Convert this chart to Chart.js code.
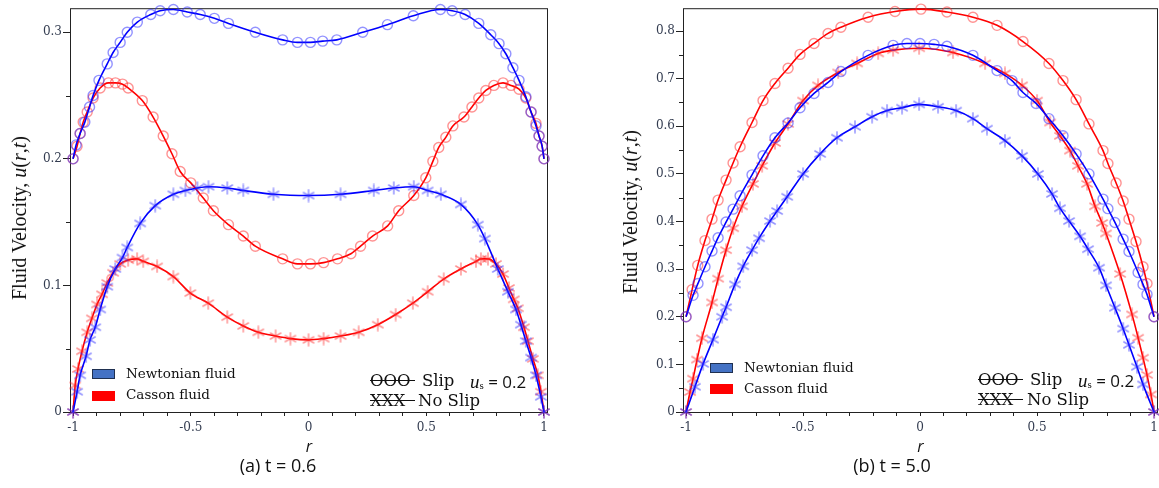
<!DOCTYPE html>
<html>
<head>
<meta charset="utf-8">
<script src="https://cdn.jsdelivr.net/npm/chart.js@4.4.1/dist/chart.umd.min.js"></script>
<style>
    body { margin: 0; background: #fff; width: 1159px; height: 488px; overflow: hidden; position: relative; }
    canvas { position: absolute; top: 0; }
    .txt { position: absolute; white-space: nowrap; line-height: 1; color: #111; }
    .leg { font-family: "DejaVu Serif", serif; font-size: 13.5px; }
    .key { font-family: "DejaVu Serif", serif; font-size: 16.5px; }
    .us { font-size: 17px; }
    .us i { font-family: "Liberation Serif", serif; font-size: 19px; }
    .us sub { font-family: "Liberation Serif", serif; font-size: 11px; vertical-align: -1px; }
    .us span { font-family: "Open Sans", sans-serif; }
    .strike { position: absolute; height: 0; border-top: 1.5px solid #111; }
    .box { position: absolute; width: 23px; height: 10px; box-sizing: border-box; }
    .ytitle { position: absolute; white-space: nowrap; line-height: 1; font-family: "Liberation Serif", serif; font-size: 20px; color: #111; transform: translate(-50%, -50%) rotate(-90deg); }
    .cap { position: absolute; white-space: nowrap; line-height: 1; font-family: "Open Sans", sans-serif; font-size: 18px; color: #111; transform: translateX(-50%); }
</style>
</head>
<body>
<canvas id="chartA" width="580" height="488" style="left:0"></canvas>
<canvas id="chartB" width="600" height="488" style="left:590px"></canvas>

<div class="ytitle" style="left:19px;top:218px">Fluid Velocity, <i>u</i>(<i>r</i>,<i>t</i>)</div>
<div class="ytitle" style="left:630px;top:212px">Fluid Velocity, <i>u</i>(<i>r</i>,<i>t</i>)</div>

<!-- panel (a) legends -->
<div class="box" style="left:92px;top:369px;background:#4472c4;border:1.5px solid #1f3050"></div>
<div class="box" style="left:92px;top:391px;background:#ff0000"></div>
<div class="txt leg" style="left:126px;top:367px">Newtonian fluid</div>
<div class="txt leg" style="left:126px;top:388px">Casson fluid</div>
<div class="txt key" style="left:370px;top:373px">OOO</div>
<div class="strike" style="left:370px;top:380px;width:45px"></div>
<div class="txt key" style="left:422px;top:373px">Slip</div>
<div class="txt us" style="left:470px;top:372px"><i>u</i><sub>s</sub><span> = 0.2</span></div>
<div class="txt key" style="left:370px;top:393px">XXX</div>
<div class="strike" style="left:370px;top:400px;width:45px"></div>
<div class="txt key" style="left:418px;top:393px">No Slip</div>

<!-- panel (b) legends -->
<div class="box" style="left:710px;top:363px;background:#4472c4;border:1.5px solid #1f3050"></div>
<div class="box" style="left:710px;top:384px;background:#ff0000"></div>
<div class="txt leg" style="left:744px;top:361px">Newtonian fluid</div>
<div class="txt leg" style="left:744px;top:382px">Casson fluid</div>
<div class="txt key" style="left:978px;top:372px">OOO</div>
<div class="strike" style="left:978px;top:379px;width:45px"></div>
<div class="txt key" style="left:1030px;top:372px">Slip</div>
<div class="txt us" style="left:1078px;top:371px"><i>u</i><sub>s</sub><span> = 0.2</span></div>
<div class="txt key" style="left:978px;top:392px">XXX</div>
<div class="strike" style="left:978px;top:399px;width:45px"></div>
<div class="txt key" style="left:1027px;top:392px">No Slip</div>

<div class="cap" style="left:278px;top:456px">(a) t = 0.6</div>
<div class="cap" style="left:892px;top:456px">(b) t = 5.0</div>

<script>
// tick labels
const xMajor = [-1, -0.5, 0, 0.5, 1];
const aYMajor = [0, 0.1, 0.2, 0.3];
const bYMajor = [0, 0.1, 0.2, 0.3, 0.4, 0.5, 0.6, 0.7, 0.8];

// (a) t = 0.6
const aNewtSlipR = [-1, -0.987, -0.97, -0.95, -0.93, -0.915, -0.89, -0.855, -0.83, -0.80, -0.77, -0.727, -0.67, -0.63, -0.574, -0.515, -0.46, -0.40, -0.34, -0.226, -0.11, -0.047, 0.008, 0.06, 0.12, 0.23, 0.335, 0.445, 0.56, 0.61, 0.665, 0.723, 0.774, 0.809, 0.838, 0.868, 0.894, 0.923, 0.945, 0.966, 0.979, 0.992, 1];
const aNewtSlipU = [0.2, 0.211, 0.22, 0.229, 0.241, 0.25, 0.262, 0.275, 0.284, 0.292, 0.30, 0.308, 0.314, 0.317, 0.318, 0.316, 0.314, 0.311, 0.307, 0.30, 0.294, 0.292, 0.292, 0.293, 0.294, 0.30, 0.306, 0.313, 0.318, 0.317, 0.314, 0.307, 0.298, 0.291, 0.283, 0.272, 0.262, 0.249, 0.237, 0.226, 0.218, 0.21, 0.2];

const aCassSlipR = [-1, -0.983, -0.97, -0.957, -0.94, -0.915, -0.885, -0.85, -0.82, -0.79, -0.766, -0.706, -0.66, -0.617, -0.58, -0.545, -0.50, -0.447, -0.404, -0.34, -0.277, -0.226, -0.11, -0.047, 0.008, 0.064, 0.123, 0.18, 0.221, 0.272, 0.336, 0.383, 0.447, 0.498, 0.528, 0.553, 0.583, 0.613, 0.66, 0.694, 0.723, 0.753, 0.787, 0.826, 0.86, 0.894, 0.923, 0.945, 0.966, 0.979, 0.992, 1];
const aCassSlipU = [0.2, 0.21, 0.22, 0.229, 0.237, 0.248, 0.256, 0.26, 0.26, 0.259, 0.256, 0.246, 0.233, 0.218, 0.204, 0.19, 0.181, 0.169, 0.159, 0.148, 0.139, 0.131, 0.121, 0.117, 0.117, 0.118, 0.121, 0.125, 0.131, 0.139, 0.147, 0.159, 0.171, 0.185, 0.198, 0.209, 0.217, 0.226, 0.233, 0.241, 0.248, 0.254, 0.258, 0.26, 0.258, 0.255, 0.248, 0.237, 0.228, 0.218, 0.21, 0.2];

const aNewtNoSlipR = [-1, -0.983, -0.97, -0.945, -0.928, -0.906, -0.885, -0.855, -0.821, -0.79, -0.77, -0.715, -0.651, -0.574, -0.523, -0.472, -0.425, -0.345, -0.277, -0.149, 0, 0.136, 0.277, 0.362, 0.447, 0.506, 0.562, 0.647, 0.719, 0.749, 0.804, 0.847, 0.881, 0.902, 0.923, 0.945, 0.966, 0.987, 1];
const aNewtNoSlipU = [0, 0.016, 0.029, 0.044, 0.057, 0.067, 0.081, 0.099, 0.113, 0.122, 0.13, 0.149, 0.163, 0.172, 0.175, 0.177, 0.178, 0.177, 0.175, 0.172, 0.171, 0.172, 0.175, 0.177, 0.178, 0.175, 0.172, 0.164, 0.148, 0.137, 0.113, 0.095, 0.081, 0.069, 0.056, 0.043, 0.029, 0.012, 0];

const aCassNoSlipR = [-1, -0.991, -0.979, -0.962, -0.94, -0.92, -0.898, -0.877, -0.855, -0.83, -0.8, -0.766, -0.728, -0.702, -0.643, -0.574, -0.502, -0.426, -0.345, -0.277, -0.213, -0.14, -0.077, 0, 0.064, 0.136, 0.213, 0.294, 0.37, 0.443, 0.506, 0.574, 0.647, 0.711, 0.732, 0.762, 0.796, 0.826, 0.851, 0.872, 0.889, 0.915, 0.932, 0.953, 0.974, 0.987, 1];
const aCassNoSlipU = [0, 0.021, 0.034, 0.048, 0.063, 0.074, 0.085, 0.093, 0.102, 0.11, 0.117, 0.12, 0.121, 0.119, 0.115, 0.107, 0.094, 0.086, 0.075, 0.068, 0.063, 0.06, 0.058, 0.057, 0.058, 0.06, 0.063, 0.069, 0.077, 0.086, 0.095, 0.105, 0.113, 0.119, 0.121, 0.121, 0.117, 0.109, 0.098, 0.089, 0.082, 0.067, 0.056, 0.042, 0.029, 0.016, 0];

// (b) t = 5.0
const bCassSlipR = [-1, -0.974, -0.95, -0.919, -0.889, -0.863, -0.829, -0.799, -0.769, -0.718, -0.671, -0.62, -0.564, -0.513, -0.453, -0.393, -0.338, -0.222, -0.107, 0.004, 0.115, 0.226, 0.329, 0.44, 0.551, 0.611, 0.667, 0.722, 0.782, 0.803, 0.838, 0.868, 0.893, 0.923, 0.953, 0.97, 1];
const bCassSlipU = [0.2, 0.257, 0.308, 0.36, 0.405, 0.445, 0.487, 0.523, 0.557, 0.608, 0.654, 0.69, 0.722, 0.751, 0.774, 0.795, 0.808, 0.829, 0.841, 0.846, 0.84, 0.829, 0.812, 0.778, 0.732, 0.696, 0.656, 0.605, 0.549, 0.522, 0.481, 0.443, 0.405, 0.358, 0.305, 0.27, 0.2];

const bNewtSlipR = [-1, -0.97, -0.949, -0.919, -0.889, -0.863, -0.829, -0.799, -0.769, -0.718, -0.671, -0.62, -0.564, -0.513, -0.453, -0.393, -0.338, -0.222, -0.115, -0.056, 0, 0.06, 0.115, 0.226, 0.329, 0.393, 0.44, 0.496, 0.551, 0.611, 0.667, 0.722, 0.782, 0.803, 0.833, 0.868, 0.893, 0.932, 0.953, 0.97, 1];
const bNewtSlipU = [0.2, 0.245, 0.27, 0.305, 0.338, 0.366, 0.399, 0.426, 0.454, 0.498, 0.538, 0.576, 0.607, 0.639, 0.669, 0.692, 0.715, 0.749, 0.77, 0.774, 0.774, 0.772, 0.768, 0.749, 0.717, 0.696, 0.671, 0.648, 0.616, 0.58, 0.542, 0.5, 0.447, 0.427, 0.398, 0.363, 0.337, 0.293, 0.268, 0.247, 0.2];

const bCassNoSlipR = [-1, -0.983, -0.97, -0.953, -0.932, -0.889, -0.863, -0.829, -0.799, -0.761, -0.714, -0.675, -0.62, -0.564, -0.5, -0.436, -0.35, -0.269, -0.179, -0.115, -0.004, 0.141, 0.278, 0.363, 0.436, 0.5, 0.556, 0.598, 0.641, 0.675, 0.714, 0.748, 0.778, 0.795, 0.855, 0.906, 0.932, 0.953, 0.97, 0.987, 1];
const bCassNoSlipU = [0, 0.042, 0.07, 0.11, 0.155, 0.23, 0.28, 0.34, 0.386, 0.432, 0.479, 0.517, 0.565, 0.605, 0.654, 0.686, 0.713, 0.732, 0.753, 0.76, 0.764, 0.755, 0.732, 0.711, 0.686, 0.654, 0.608, 0.58, 0.549, 0.517, 0.479, 0.432, 0.397, 0.375, 0.29, 0.205, 0.156, 0.114, 0.078, 0.037, 0];

const bNewtNoSlipR = [-1, -0.962, -0.927, -0.885, -0.846, -0.829, -0.791, -0.756, -0.718, -0.688, -0.641, -0.611, -0.568, -0.5, -0.427, -0.355, -0.278, -0.205, -0.141, -0.077, -0.004, 0.077, 0.154, 0.226, 0.286, 0.363, 0.436, 0.504, 0.564, 0.598, 0.637, 0.684, 0.718, 0.765, 0.795, 0.833, 0.868, 0.893, 0.927, 0.953, 1];
const bNewtNoSlipU = [0, 0.053, 0.101, 0.152, 0.2, 0.22, 0.268, 0.306, 0.34, 0.365, 0.401, 0.422, 0.452, 0.5, 0.542, 0.576, 0.599, 0.62, 0.633, 0.639, 0.646, 0.641, 0.633, 0.616, 0.595, 0.57, 0.538, 0.5, 0.458, 0.428, 0.401, 0.369, 0.342, 0.303, 0.266, 0.219, 0.175, 0.141, 0.095, 0.058, 0];

const BLUE = { line: "#0000ff", mark: "rgba(40,40,255,0.5)" };
const RED = { line: "#ff0000", mark: "rgba(255,40,40,0.5)" };
const TICK_FONT = { family: "DejaVu Serif", size: 12 };
const TICK_COLOR = "#333c50";

// asterisk marker (6 arms) as a small canvas
function asterisk(color) {
    const c = document.createElement("canvas");
    c.width = 14; c.height = 14;
    const g = c.getContext("2d");
    g.strokeStyle = color;
    g.lineWidth = 1.5;
    g.lineCap = "round";
    [90, 30, -30].forEach(deg => {
        const a = deg * Math.PI / 180;
        const dx = Math.cos(a) * 6, dy = Math.sin(a) * 6;
        g.beginPath();
        g.moveTo(7 - dx, 7 - dy);
        g.lineTo(7 + dx, 7 + dy);
        g.stroke();
    });
    return c;
}

function series(r, u, color, marker) {
    return {
        data: r.map((x, i) => ({ x: x, y: u[i] })),
        borderColor: color.line,
        borderWidth: 1.6,
        pointStyle: marker === "o" ? "circle" : asterisk(color.mark),
        pointRadius: 5,
        pointBorderColor: color.mark,
        pointBackgroundColor: "transparent",
        pointBorderWidth: 1.4,
        cubicInterpolationMode: "monotone",
        fill: false,
        clip: false
    };
}

function steps(from, to, step) {
    const out = [];
    for (let v = from; v <= to + 1e-9; v += step) out.push(Math.round(v * 100) / 100);
    return out;
}

function isMajor(list, v) {
    return list.some(m => Math.abs(m - v) < 1e-6);
}

// box round the plot area + short minor ticks
const framePlugin = {
    id: "frame",
    beforeDatasetsDraw(chart) {
        const { ctx, chartArea: a } = chart;
        ctx.save();
        ctx.strokeStyle = "#222";
        ctx.lineWidth = 1;
        ctx.strokeRect(a.left + 0.5, a.top + 0.5, a.right - a.left - 1, a.bottom - a.top);
        const ys = chart.scales.y;
        ys.ticks.forEach(t => {
            if (isMajor(ys.options.majorList, t.value)) return;
            const py = Math.round(ys.getPixelForValue(t.value)) + 0.5;
            ctx.beginPath();
            ctx.moveTo(a.left - 4, py);
            ctx.lineTo(a.left, py);
            ctx.stroke();
        });
        ctx.restore();
    }
};

function makePanel(id, yMax, yMajor, yWidth, datasets) {
    const xTicks = steps(-1, 1, 0.1);
    const yTicks = steps(0, yMax, 0.05);
    return new Chart(document.getElementById(id), {
        type: "line",
        data: { datasets: datasets },
        options: {
            responsive: false,
            animation: false,
            layout: { padding: { top: 8, right: 32, bottom: 31, left: 0 } },
            plugins: { legend: { display: false }, tooltip: { enabled: false } },
            scales: {
                x: {
                    type: "linear",
                    min: -1.013,
                    max: 1.017,
                    afterBuildTicks: s => { s.ticks = xTicks.map(v => ({ value: v })); },
                    afterFit: s => { s.height = 45; },
                    border: { display: false },
                    grid: { drawOnChartArea: false, drawTicks: true, tickLength: 4, tickColor: "#222", tickWidth: 1 },
                    ticks: {
                        autoSkip: false, maxRotation: 0, padding: 5,
                        font: TICK_FONT, color: TICK_COLOR,
                        callback: v => isMajor(xMajor, v) ? String(Math.round(v * 10) / 10) : ""
                    },
                    title: {
                        display: true, text: "r", color: "#111",
                        font: { family: "Open Sans", style: "italic", size: 16 },
                        padding: { top: 0, bottom: 0 }
                    }
                },
                y: {
                    type: "linear",
                    min: 0,
                    max: yMax,
                    majorList: yMajor,
                    afterBuildTicks: s => { s.ticks = yTicks.map(v => ({ value: v })); },
                    afterFit: s => { s.width = yWidth; },
                    border: { display: false },
                    grid: {
                        drawOnChartArea: false, drawTicks: true, tickLength: 7, tickWidth: 1,
                        tickColor: c => isMajor(yMajor, c.tick.value) ? "#222" : "rgba(0,0,0,0)"
                    },
                    ticks: {
                        autoSkip: false, padding: 1,
                        font: TICK_FONT, color: TICK_COLOR,
                        callback: v => isMajor(yMajor, v) ? String(Math.round(v * 10) / 10) : ""
                    }
                }
            }
        },
        plugins: [framePlugin]
    });
}

makePanel("chartA", 0.319, aYMajor, 70, [
    series(aNewtSlipR, aNewtSlipU, BLUE, "o"),
    series(aNewtNoSlipR, aNewtNoSlipU, BLUE, "*"),
    series(aCassSlipR, aCassSlipU, RED, "o"),
    series(aCassNoSlipR, aCassNoSlipU, RED, "*")
]);

makePanel("chartB", 0.848, bYMajor, 93, [
    series(bNewtSlipR, bNewtSlipU, BLUE, "o"),
    series(bNewtNoSlipR, bNewtNoSlipU, BLUE, "*"),
    series(bCassSlipR, bCassSlipU, RED, "o"),
    series(bCassNoSlipR, bCassNoSlipU, RED, "*")
]);
</script>
</body>
</html>
